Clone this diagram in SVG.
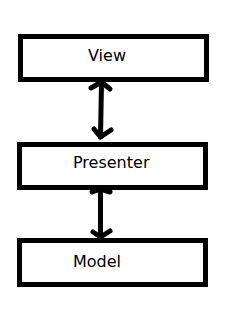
<svg xmlns="http://www.w3.org/2000/svg" width="226" height="327" viewBox="0 0 226 327">
<style>
.box{fill:#fff;stroke:#000;stroke-width:5}
.lbl{font-family:"DejaVu Sans",Verdana,sans-serif;font-size:16px;fill:#000}
.con{fill:none;stroke:#000;stroke-width:5;stroke-linecap:round;stroke-linejoin:round}
</style>
<rect width="226" height="327" fill="#fff"/>
<g id="view"><rect class="box" x="20.5" y="36.5" width="186" height="43"/><text class="lbl" x="88" y="61">View</text></g>
<g id="presenter"><rect class="box" x="19.5" y="144.5" width="186" height="43"/><text class="lbl" x="73" y="168">Presenter</text></g>
<g id="model"><rect class="box" x="19.5" y="240.5" width="186" height="44"/><text class="lbl" x="73" y="267">Model</text></g>
<g id="connectors">
<path class="con" d="M101.5 83 L100.5 137"/>
<path class="con" d="M91 88 L101.5 82 L110 89"/>
<path class="con" d="M94 129 L100.5 137 L111 130"/>
<path class="con" d="M100.5 191 L100.5 236"/>
<path class="con" d="M92 192 L100.5 189 L110 192"/>
<path class="con" d="M93 232 L100.5 237 L110 231"/>
</g>
</svg>
